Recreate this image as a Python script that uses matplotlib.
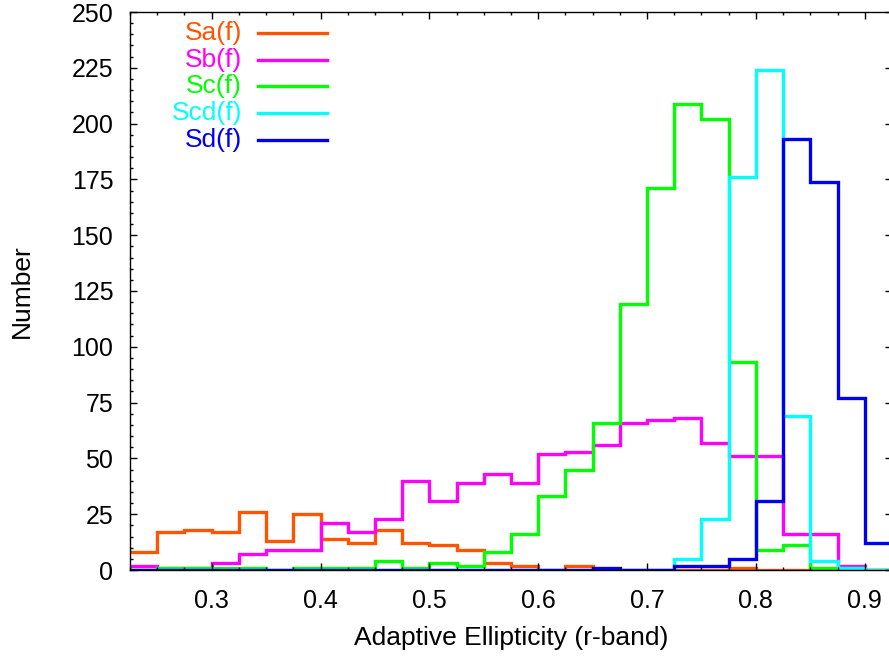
import matplotlib
matplotlib.use("Agg")
import matplotlib.pyplot as plt
from matplotlib.ticker import MultipleLocator
import numpy as np

plt.rcParams["font.family"] = ["Liberation Sans", "DejaVu Sans"]

# histogram bins: 0.225 .. 0.925 in steps of 0.025
bin_start = 0.225
bin_width = 0.025
n_bins = 28

sa = [8, 17, 18, 17, 26, 13, 25, 14, 12, 18, 12, 11, 9, 3, 2, 0, 2, 0, 0, 0, 0, 0, 1, 0, 0, 1, 0, 0]
sb = [2, 1, 1, 3, 7, 9, 9, 21, 17, 23, 40, 31, 39, 43, 39, 52, 53, 56, 66, 67, 68, 57, 51, 51, 16, 16, 2, 0]
sc = [0, 1, 1, 1, 1, 0, 1, 1, 1, 4, 1, 3, 2, 8, 16, 33, 45, 66, 119, 171, 209, 202, 93, 9, 11, 1, 1, 0]
scd = [0, 0, 0, 0, 0, 0, 0, 0, 0, 0, 0, 0, 0, 0, 0, 0, 0, 0, 0, 0, 5, 23, 176, 224, 69, 4, 1, 0]
sd = [0, 0, 0, 0, 0, 0, 0, 0, 0, 0, 0, 0, 0, 0, 0, 0, 0, 1, 0, 0, 2, 2, 5, 31, 193, 174, 77, 12]

labels = ["Sa(f)", "Sb(f)", "Sc(f)", "Scd(f)", "Sd(f)"]
colors = ["#ff5500", "#ff00ff", "#00ff00", "#00ffff", "#0000f0"]

edges = bin_start + bin_width * np.arange(n_bins + 1)

fig = plt.figure(figsize=(8.89, 6.58), dpi=100)
ax = fig.add_axes([130 / 889, 88 / 658, 762 / 889, 558 / 658])

for vals, col in zip([sa, sb, sc, scd, sd], colors):
    ax.stairs(vals, edges, baseline=None, color=col, linewidth=2.4)

ax.set_xlim(0.225, 0.925)
ax.set_ylim(0, 250)

ax.xaxis.set_major_locator(MultipleLocator(0.1))
ax.xaxis.set_minor_locator(MultipleLocator(0.025))
ax.yaxis.set_major_locator(MultipleLocator(25))
ax.yaxis.set_minor_locator(MultipleLocator(5))
ax.tick_params(which="both", direction="in", top=True, right=True, width=1.0)
ax.tick_params(which="major", length=5)
ax.tick_params(which="minor", length=2.5)
ax.tick_params(axis="x", which="major", labelsize=18, pad=14)
ax.tick_params(axis="y", which="major", labelsize=18, pad=12)
ax.set_xticks([0.3, 0.4, 0.5, 0.6, 0.7, 0.8, 0.9])
ax.set_xticklabels(["0.3", "0.4", "0.5", "0.6", "0.7", "0.8", "0.9"])
for s in ax.spines.values():
    s.set_linewidth(1.0)

ax.set_xlabel("Adaptive Ellipticity (r-band)", fontsize=19, labelpad=9)
ax.set_ylabel("Number", fontsize=19, labelpad=27)

# gnuplot-style key: coloured label right-aligned, sample line to the right
key_y = 0.962
for i, (lab, col) in enumerate(zip(labels, colors)):
    y = key_y - i * 0.0477
    ax.text(0.147, y, lab, color=col, fontsize=19, ha="right", va="center",
            transform=ax.transAxes)
    ax.plot([0.168, 0.2585], [y, y], color=col, linewidth=2.4,
            transform=ax.transAxes)

fig.savefig("out.png", dpi=100)
